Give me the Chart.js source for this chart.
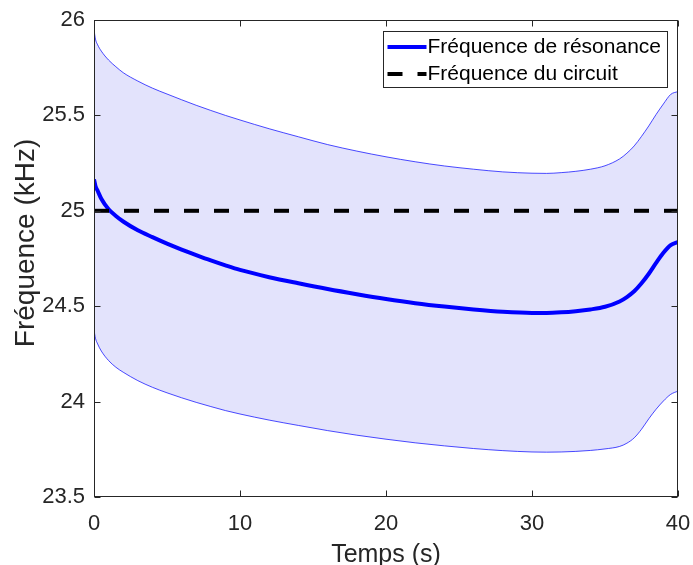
<!DOCTYPE html>
<html><head><meta charset="utf-8">
<script src="https://cdn.jsdelivr.net/npm/chart.js@4.4.1/dist/chart.umd.min.js"></script>
<style>html,body{margin:0;padding:0;background:#fff;}#wrap{width:693px;height:565px;}</style>
</head><body><div id="wrap"><canvas id="c" width="693" height="565"></canvas></div>
<script>
const time = [0,0.1,0.25,0.5,1,1.5,2,3,4,5,6,7,8,9,10,12,14,16,18,20,22,24,26,28,30,31,32,33,34,35,36,36.5,37,37.5,38,38.5,39,39.5,40];
const resonance = [25.165,25.13,25.105,25.063,25.008,24.973,24.944,24.898,24.862,24.828,24.797,24.768,24.74,24.714,24.69,24.652,24.62,24.59,24.563,24.538,24.516,24.498,24.483,24.471,24.465,24.465,24.468,24.474,24.483,24.497,24.525,24.548,24.578,24.62,24.67,24.727,24.78,24.82,24.836];
const upperBound = [25.95,25.9,25.87,25.837,25.79,25.755,25.724,25.68,25.643,25.612,25.582,25.553,25.526,25.5,25.476,25.43,25.388,25.347,25.313,25.283,25.257,25.235,25.218,25.204,25.197,25.196,25.2,25.207,25.218,25.236,25.272,25.302,25.34,25.39,25.445,25.505,25.56,25.61,25.625];
const lowerBound = [24.375,24.332,24.302,24.265,24.215,24.18,24.154,24.11,24.075,24.046,24.02,23.996,23.974,23.953,23.935,23.903,23.875,23.848,23.824,23.803,23.784,23.768,23.754,23.743,23.736,23.735,23.736,23.739,23.744,23.752,23.765,23.782,23.81,23.855,23.91,23.96,24.003,24.038,24.055];
const circuitFreq = [25, 25];
const circuitTime = [0, 40];
const xTicks = [0, 10, 20, 30, 40];
const yTicks = [23.5, 24, 24.5, 25, 25.5, 26];
const seriesNames = ['Fréquence de résonance', 'Fréquence du circuit'];
const xTitle = 'Temps (s)';
const yTitle = '    Fréquence (kHz)';

const FONT = '"Liberation Sans", Arial, Helvetica, sans-serif';
const AXIS = '#262626';
const pts = (xs, ys) => xs.map((x, i) => ({x: x, y: ys[i]}));

const matlabAxes = {
  id: 'matlabAxes',
  afterDraw(chart) {
    const ctx = chart.ctx, ca = chart.chartArea;
    const xs = chart.scales.x, ys = chart.scales.y;
    const L = Math.round(ca.left) + 0.5, R = Math.round(ca.right) - 0.5;
    const T = Math.round(ca.top) + 0.5, B = Math.round(ca.bottom) - 0.5;
    ctx.save();
    ctx.strokeStyle = AXIS; ctx.lineWidth = 1; ctx.setLineDash([]);
    ctx.beginPath();
    const tl = 6;
    xs.ticks.forEach(t => {
      const px = Math.round(xs.getPixelForValue(t.value)) + 0.5;
      ctx.moveTo(px, B); ctx.lineTo(px, B - tl);
      ctx.moveTo(px, T); ctx.lineTo(px, T + tl);
    });
    ys.ticks.forEach(t => {
      const py = Math.round(ys.getPixelForValue(t.value)) + 0.5;
      ctx.moveTo(L, py); ctx.lineTo(L + tl, py);
      ctx.moveTo(R, py); ctx.lineTo(R - tl, py);
    });
    ctx.stroke();
    ctx.strokeRect(L, T, R - L, B - T);

    // legend inside the axes, top-right
    const bw = 284, bh = 56;
    const bx = Math.round(ca.right - 11 - bw) + 0.5, by = Math.round(ca.top + 11) + 0.5;
    ctx.fillStyle = '#fff';
    ctx.fillRect(bx, by, bw, bh);
    ctx.strokeStyle = AXIS;
    ctx.strokeRect(bx, by, bw, bh);
    const items = [chart.data.datasets[1], chart.data.datasets[0]];
    items.forEach((ds, i) => {
      const cy = by + 15.5 + i * 27;
      ctx.beginPath();
      ctx.strokeStyle = ds.borderColor; ctx.lineWidth = ds.borderWidth;
      ctx.setLineDash(ds.borderDash || []);
      ctx.moveTo(bx + 4, cy); ctx.lineTo(bx + 43, cy);
      ctx.stroke();
      ctx.setLineDash([]);
      ctx.fillStyle = '#000';
      ctx.font = '21px ' + FONT;
      ctx.textBaseline = 'middle'; ctx.textAlign = 'left';
      ctx.fillText(ds.label, bx + 44, cy);
    });
    ctx.restore();
  }
};

new Chart(document.getElementById('c'), {
  type: 'line',
  data: {
    datasets: [
      { label: seriesNames[1], data: pts(circuitTime, circuitFreq), borderColor: '#000000', borderWidth: 4,
        borderDash: [15, 15], pointRadius: 0, fill: false },
      { label: seriesNames[0], data: pts(time, resonance), borderColor: '#0000FF', borderWidth: 4,
        pointRadius: 0, fill: false, cubicInterpolationMode: 'monotone' },
      { label: 'upper', data: pts(time, upperBound), borderColor: 'rgba(0,0,255,0.7)', borderWidth: 1,
        pointRadius: 0, fill: '+1', backgroundColor: '#E3E3FC', cubicInterpolationMode: 'monotone' },
      { label: 'lower', data: pts(time, lowerBound), borderColor: 'rgba(0,0,255,0.7)', borderWidth: 1,
        pointRadius: 0, fill: false, cubicInterpolationMode: 'monotone' }
    ]
  },
  options: {
    responsive: false,
    animation: false,
    layout: { padding: { top: 20, right: 15, left: 0, bottom: 0 } },
    plugins: {
      legend: { display: false },
      tooltip: { enabled: false },
      filler: { drawTime: 'beforeDatasetsDraw' }
    },
    scales: {
      x: {
        type: 'linear', min: 0, max: 40,
        afterBuildTicks: s => { s.ticks = xTicks.map(v => ({ value: v })); },
        afterFit: s => { s.height = 68; s.paddingLeft = 0; s.paddingRight = 0; },
        grid: { display: false, drawTicks: false },
        border: { display: false },
        ticks: { color: AXIS, font: { family: FONT, size: 22 }, padding: 14, maxRotation: 0, autoSkip: false },
        title: { display: true, text: xTitle, color: AXIS, font: { family: FONT, size: 25, lineHeight: 0.8 }, padding: { top: 0, bottom: 0 } }
      },
      y: {
        type: 'linear', min: 23.5, max: 26,
        afterBuildTicks: s => { s.ticks = yTicks.map(v => ({ value: v })); },
        afterFit: s => { s.width = 94; s.paddingTop = 0; s.paddingBottom = 0; },
        grid: { display: false, drawTicks: false },
        border: { display: false },
        ticks: { color: AXIS, font: { family: FONT, size: 22 }, padding: 9, autoSkip: false, callback: v => String(v) },
        title: { display: true, text: yTitle, color: AXIS, font: { family: FONT, size: 28, lineHeight: 1 }, padding: { top: 12, bottom: 0 } }
      }
    }
  },
  plugins: [matlabAxes]
});
</script>
</body></html>
